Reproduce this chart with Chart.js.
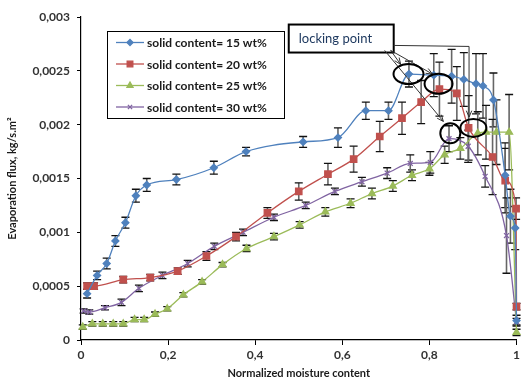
<!DOCTYPE html>
<html>
<head>
<meta charset="utf-8">
<script src="https://cdn.jsdelivr.net/npm/chart.js@4.4.0/dist/chart.umd.min.js"></script>
<style>
html,body{margin:0;padding:0;background:#fff;}
</style>
</head>
<body>
<canvas id="fluxChart" width="523" height="381"></canvas>
<script>
// series labels
const seriesNames = ['solid content= 15 wt%', 'solid content= 20 wt%', 'solid content= 25 wt%', 'solid content= 30 wt%'];

// 15 wt%
const x15 = [0.014,0.037,0.059,0.079,0.102,0.126,0.151,0.219,0.305,0.379,0.51,0.59,0.654,0.706,0.753,0.81,0.851,0.879,0.907,0.923,0.947,0.974,0.986,0.997,1.0];
const y15 = [0.00043,0.0006,0.00071,0.00092,0.00109,0.00134,0.00144,0.00149,0.0016,0.00175,0.00184,0.00188,0.00213,0.00213,0.00247,0.00246,0.00245,0.00242,0.00238,0.00236,0.00223,0.00153,0.00115,0.00104,0.00018];
const e15 = [0.00004,0.00004,0.00005,0.00005,0.00005,0.00006,0.00006,0.00005,0.00006,0.00004,0.00005,0.00009,0.00008,0.00008,0.00012,0.0002,0.00025,0.00025,0.00028,0.0003,0.00025,0.0003,0.00025,0.0002,0.00005];

// 20 wt%
const x20 = [0.014,0.03,0.097,0.159,0.222,0.288,0.356,0.428,0.5,0.567,0.626,0.686,0.737,0.781,0.823,0.863,0.89,0.945,0.974,0.999,1.0];
const y20 = [0.0005,0.0005,0.00056,0.00058,0.00064,0.00078,0.00096,0.00118,0.00138,0.00154,0.00168,0.00189,0.00206,0.00221,0.00233,0.00229,0.00197,0.0017,0.00148,0.00122,0.00031];
const e20 = [0.00003,0.00003,0.00003,0.00003,0.00003,0.00004,0.00004,0.00005,0.00008,0.0001,0.00012,0.00014,0.00015,0.0002,0.00025,0.00025,0.0003,0.00035,0.0003,0.0001,0.00003];

// 25 wt%
const x25 = [0.004,0.026,0.05,0.074,0.097,0.123,0.145,0.17,0.198,0.235,0.278,0.325,0.38,0.443,0.502,0.561,0.619,0.668,0.716,0.76,0.8,0.835,0.871,0.911,0.93,0.954,0.983,1.0];
const y25 = [0.00012,0.00015,0.00015,0.00015,0.00015,0.00019,0.00019,0.00024,0.00029,0.00042,0.00054,0.0007,0.00085,0.00096,0.00107,0.00119,0.00127,0.00136,0.00143,0.00153,0.00159,0.00172,0.00178,0.00192,0.00193,0.00193,0.00193,0.00007];
const e25 = [0.00002,0.00002,0.00002,0.00002,0.00002,0.00002,0.00002,0.00002,0.00002,0.00002,0.00002,0.00002,0.00003,0.00003,0.00003,0.00004,0.00004,0.00005,0.00005,0.00005,0.00006,0.00008,0.0001,0.0002,0.00025,0.0003,0.00035,0.00003];

// 30 wt%
const x30 = [0.006,0.019,0.055,0.093,0.133,0.187,0.245,0.306,0.372,0.443,0.516,0.583,0.645,0.703,0.756,0.802,0.845,0.889,0.928,0.977,1.0];
const y30 = [0.00027,0.00026,0.0003,0.00035,0.00048,0.0006,0.00071,0.00087,0.001,0.00114,0.00125,0.00138,0.00147,0.00155,0.00164,0.00165,0.00187,0.0018,0.00152,0.00097,0.00017];
const e30 = [0.00002,0.00002,0.00002,0.00003,0.00003,0.00003,0.00003,0.00003,0.00003,0.00003,0.00003,0.00003,0.00004,0.00005,0.00008,0.0001,0.00012,0.00015,0.0001,0.00035,0.00003];

const xTickLabels = ['0','0,2','0,4','0,6','0,8','1'];
const yTickLabels = ['0','0,0005','0,001','0,0015','0,002','0,0025','0,003'];

const seriesErrors = [e15, e20, e25, e30];
const colors = ['#4F81BD','#C0504D','#9BBB59','#8064A2'];
const styles = ['rectRot','rect','triangle','crossRot'];
const radii = [3.5,4.5,4,3.5];

function pts(xs, ys){ return xs.map((v,i) => ({x:v, y:ys[i]})); }
const allData = [pts(x15,y15), pts(x20,y20), pts(x25,y25), pts(x30,y30)];

const FONT = 'Lato, "Open Sans", sans-serif';

// error bars
const errorBars = {
  id: 'errorBars',
  beforeDatasetsDraw(chart) {
    const {ctx, scales: {x, y}} = chart;
    ctx.save();
    chart.data.datasets.forEach((ds, i) => {
      const errs = seriesErrors[i];
      ds.data.forEach((p, j) => {
        const px = x.getPixelForValue(p.x);
        const t = y.getPixelForValue(p.y + errs[j]);
        const b = y.getPixelForValue(p.y - errs[j]);
        ctx.strokeStyle = '#666';
        ctx.lineWidth = 1.6;
        ctx.beginPath(); ctx.moveTo(px, t); ctx.lineTo(px, b); ctx.stroke();
        ctx.strokeStyle = '#111';
        ctx.lineWidth = 1.3;
        ctx.beginPath();
        ctx.moveTo(px-4, t); ctx.lineTo(px+4, t);
        ctx.moveTo(px-4, b); ctx.lineTo(px+4, b);
        ctx.stroke();
      });
    });
    ctx.restore();
  }
};

function arrow(ctx, x1, y1, x2, y2) {
  ctx.beginPath(); ctx.moveTo(x1,y1); ctx.lineTo(x2,y2); ctx.stroke();
  const a = Math.atan2(y2-y1, x2-x1);
  ctx.beginPath();
  ctx.moveTo(x2 - 7*Math.cos(a-0.4), y2 - 7*Math.sin(a-0.4));
  ctx.lineTo(x2, y2);
  ctx.lineTo(x2 - 7*Math.cos(a+0.4), y2 - 7*Math.sin(a+0.4));
  ctx.stroke();
}

// legend box and "locking point" callout
const overlay = {
  id: 'overlay',
  afterDraw(chart) {
    const {ctx, scales: {x, y}} = chart;
    ctx.save();
    // legend
    ctx.strokeStyle = '#000'; ctx.lineWidth = 1;
    ctx.strokeRect(107.5, 31.5, 177, 87);
    ctx.font = 'bold 12px ' + FONT;
    ctx.textBaseline = 'middle';
    seriesNames.forEach((name, i) => {
      const ly = 42.5 + i*21.5;
      ctx.strokeStyle = colors[i]; ctx.lineWidth = 1.3;
      ctx.beginPath(); ctx.moveTo(116, ly); ctx.lineTo(144, ly); ctx.stroke();
      ctx.fillStyle = colors[i];
      Chart.helpers.drawPoint(ctx, {pointStyle: styles[i], radius: radii[i]-0.5, borderWidth: 1.3, rotation: 0}, 130, ly);
      ctx.fillStyle = '#1a1a1a';
      ctx.fillText(name, 147, ly + 1);
    });
    // callout box
    const bx0 = x.getPixelForValue(0.477), bx1 = x.getPixelForValue(0.718);
    const by0 = y.getPixelForValue(0.00293), by1 = y.getPixelForValue(0.00267);
    ctx.strokeStyle = '#000'; ctx.lineWidth = 2;
    ctx.strokeRect(bx0, by0, bx1-bx0, by1-by0);
    ctx.fillStyle = '#1F3A60';
    ctx.font = '13px ' + FONT;
    ctx.fillText('locking point', bx0 + 10, (by0+by1)/2);
    // arrows
    ctx.strokeStyle = '#333'; ctx.lineWidth = 1;
    const cx = x.getPixelForValue(0.711), cy = y.getPixelForValue(0.00269);
    arrow(ctx, cx, cy, x.getPixelForValue(0.734), y.getPixelForValue(0.00256));
    arrow(ctx, cx, cy, x.getPixelForValue(0.807), y.getPixelForValue(0.00247));
    arrow(ctx, cx-6, cy, x.getPixelForValue(0.832), y.getPixelForValue(0.00203));
    const hy = y.getPixelForValue(0.002736), hx = x.getPixelForValue(0.891);
    ctx.beginPath(); ctx.moveTo(bx1, hy); ctx.lineTo(hx, hy+1); ctx.stroke();
    arrow(ctx, hx, hy+1, hx, y.getPixelForValue(0.00207));
    // circles
    ctx.strokeStyle = '#000'; ctx.lineWidth = 2;
    [[0.752,0.00247,15,10],[0.821,0.00238,14,10],[0.848,0.00192,10,10],[0.901,0.00197,13,9]].forEach(c => {
      ctx.beginPath();
      ctx.ellipse(x.getPixelForValue(c[0]), y.getPixelForValue(c[1]), c[2], c[3], 0, 0, Math.PI*2);
      ctx.stroke();
    });
    ctx.restore();
  }
};

new Chart(document.getElementById('fluxChart'), {
  type: 'line',
  data: {
    datasets: allData.map((d, i) => ({
      label: seriesNames[i],
      data: d,
      borderColor: colors[i],
      backgroundColor: colors[i],
      borderWidth: 1.3,
      pointStyle: styles[i],
      pointRadius: radii[i],
      pointBorderWidth: 1.3,
      cubicInterpolationMode: 'monotone',
      clip: false
    }))
  },
  options: {
    responsive: false,
    animation: false,
    layout: { padding: { top: 17, right: 5, bottom: 0, left: 0 } },
    plugins: { legend: { display: false }, tooltip: { enabled: false } },
    scales: {
      x: {
        type: 'linear', min: 0, max: 1,
        afterFit(s) { s.height = 41; },
        ticks: { stepSize: 0.2, padding: 3, color: '#333', font: { family: FONT, size: 12, weight: 'bold' },
          callback: (v, i) => xTickLabels[i] },
        grid: { drawOnChartArea: false, tickLength: 5, color: '#000' },
        border: { color: '#000', width: 1.2 },
        title: { display: true, text: 'Normalized moisture content', color: '#1a1a1a',
          font: { family: FONT, size: 11, weight: 'bold' }, padding: { top: 0, bottom: 1 } }
      },
      y: {
        min: 0, max: 0.003,
        afterFit(s) { s.width = 81; },
        ticks: { stepSize: 0.0005, padding: 7, color: '#333', font: { family: FONT, size: 12, weight: 'bold' },
          callback: (v, i) => yTickLabels[i] },
        grid: { drawOnChartArea: false, tickLength: 4, color: '#000' },
        border: { color: '#000', width: 1.2 },
        title: { display: true, text: 'Evaporation flux, kg/s.m²', color: '#1a1a1a',
          font: { family: FONT, size: 11, weight: 'bold' }, padding: { top: 6, bottom: 0 } }
      }
    }
  },
  plugins: [errorBars, overlay]
});
</script>
</body>
</html>
